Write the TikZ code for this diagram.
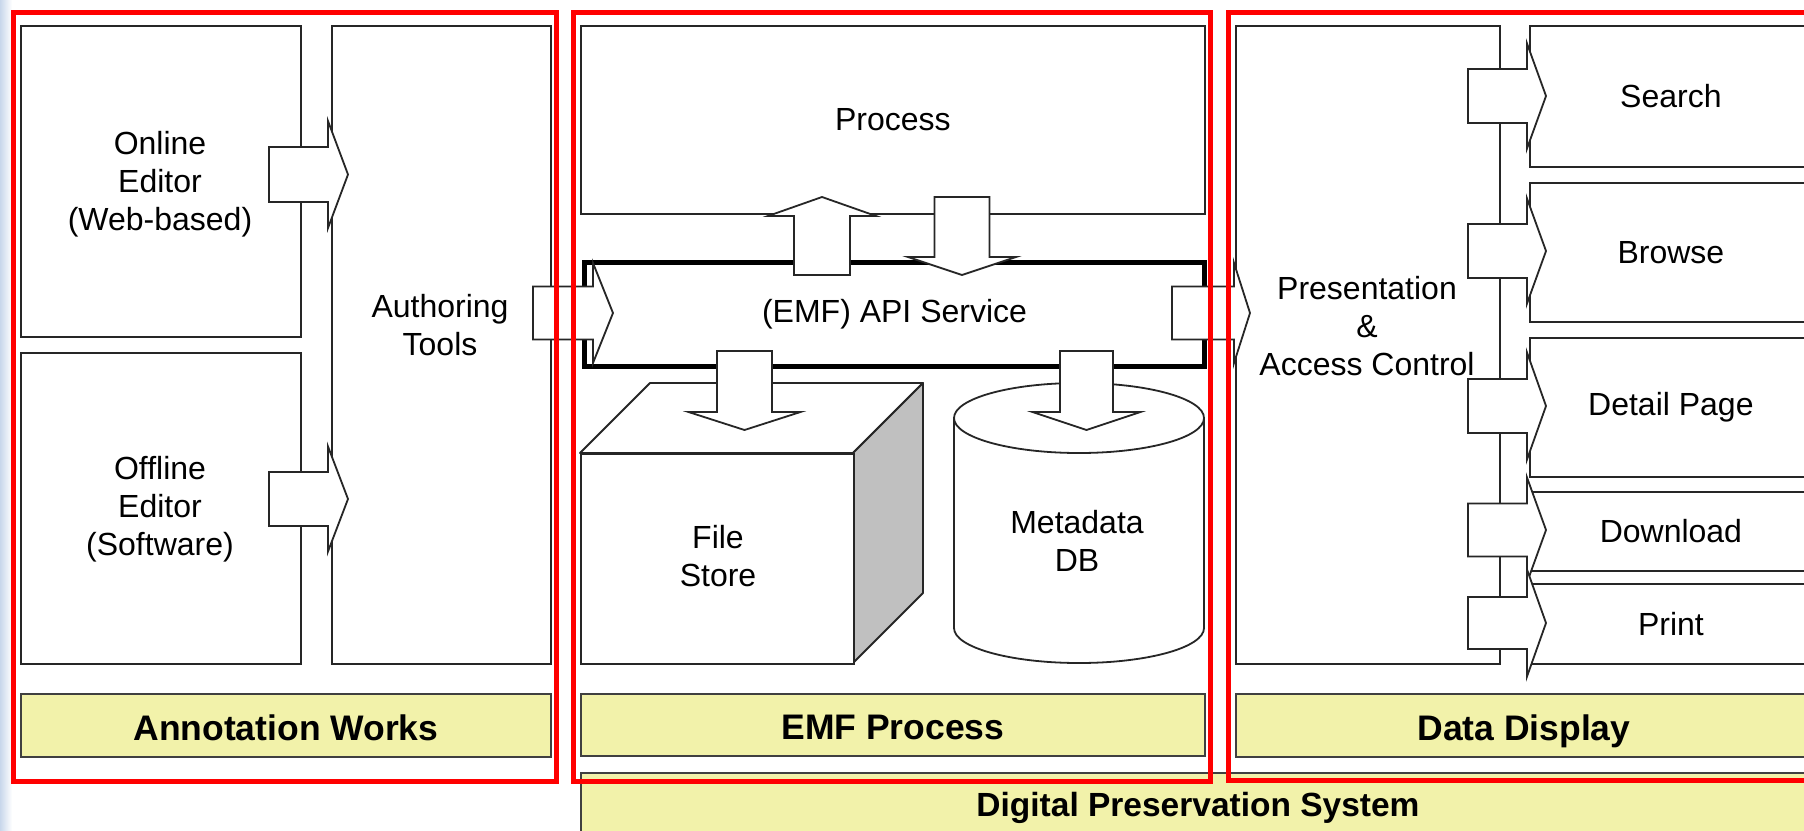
\documentclass[tikz,border=0pt]{standalone}
\usepackage{fontspec}
\setmainfont{Liberation Sans}
\definecolor{yelbg}{RGB}{242,242,170}
\definecolor{sidegray}{RGB}{192,192,192}
\definecolor{bgblue}{RGB}{200,215,235}
\newcommand\regf{\fontsize{32}{38}\selectfont}
\newcommand\bldf{\bfseries\fontsize{35.5}{40}\selectfont}
\newcommand\mkbox[7]{\node[#6, anchor=north west, minimum width={#4pt-#2pt}, minimum height={#5pt-#3pt}] (#1) at (#2,#3) {#7};}
% horizontal block arrow: x0, head base x, tip x, centre y, half body, half head
\newcommand\harr[6]{\draw[barrow] (#1,#4-#5) -- (#2,#4-#5) -- (#2,#4-#6) -- (#3,#4) -- (#2,#4+#6) -- (#2,#4+#5) -- (#1,#4+#5) -- cycle;}
% vertical block arrow: y0, head base y, tip y, centre x, half body, half head
\newcommand\varr[6]{\draw[barrow] (#4-#5,#1) -- (#4-#5,#2) -- (#4-#6,#2) -- (#4,#3) -- (#4+#6,#2) -- (#4+#5,#2) -- (#4+#5,#1) -- cycle;}
\begin{document}
\begin{tikzpicture}[x=1pt,y=-1pt,
  box/.style={draw=black!85, line width=1.8pt, fill=white, inner sep=0pt, align=center, font=\regf},
  ybox/.style={draw=black!75, line width=1.8pt, fill=yelbg, inner sep=0pt, font=\bldf, text height=30pt, text depth=0pt},
  lbl/.style={inner sep=0pt, align=center, font=\regf},
  barrow/.style={draw=black!85, line width=1.8pt, fill=white, line join=miter},
  frame/.style={draw=red, line width=5pt}]
\useasboundingbox (0,0) rectangle (1804,830);
\clip (0,0) rectangle (1804,830);
\fill[white] (0,0) rectangle (1804,830);
\shade[left color=bgblue, right color=white] (0,0) rectangle (12,830);

% ---------- Annotation Works ----------
\mkbox{online}{20}{25}{300}{336}{box}{}
\node[lbl] (onlinetxt) at (160,184) {Online\\Editor\\(Web-based)};
\mkbox{offline}{20}{352}{300}{663}{box}{}
\node[lbl] (offlinetxt) at (160,509) {Offline\\Editor\\(Software)};
\mkbox{auth}{331}{25}{550}{663}{box}{}
\node[lbl] (authtxt) at (440,325) {Authoring\\Tools};
\mkbox{annot}{20}{693}{550}{756}{ybox}{Annotation Works}

% ---------- EMF Process ----------
\mkbox{process}{580}{25}{1204}{213}{box}{Process}
\node[draw=black, line width=5pt, fill=white, anchor=north west, minimum width=620pt, minimum height=104pt, inner sep=0pt, font=\regf] (api) at (582,260) {(EMF) API Service};
% cube
\draw[draw=black!85, line width=1.8pt, fill=white, line join=round] (580,453) -- (650,383) -- (923,383) -- (853,453) -- cycle;
\draw[draw=black!85, line width=1.8pt, fill=sidegray, line join=round] (853,453) -- (923,383) -- (923,593) -- (853,663) -- cycle;
\mkbox{filestore}{580}{453}{853}{663}{box}{}
\node[lbl] (filetxt) at (718,556) {File\\Store};
% cylinder
\draw[draw=black!85, line width=1.8pt, fill=white] (954,418) -- (954,628) arc[start angle=180, end angle=360, x radius=125pt, y radius=35pt] -- (1204,418) -- cycle;
\draw[draw=black!85, line width=1.8pt, fill=white] (1079,418) ellipse [x radius=125pt, y radius=35pt];
\node[lbl] (metadata) at (1077,541) {Metadata\\DB};
\mkbox{emf}{580}{693}{1204}{755}{ybox}{EMF Process}
\node[draw=black!75, line width=1.8pt, fill=yelbg, anchor=north west, minimum width=1250pt, minimum height=90pt, inner sep=0pt] (dps) at (580,772) {};
\node[inner sep=0pt, font=\bfseries\fontsize{33.5}{38}\selectfont] (dpstxt) at (1198,808) {Digital Preservation System};

% ---------- Data Display ----------
\mkbox{pres}{1235}{25}{1499}{663}{box}{}
\node[lbl] (prestxt) at (1367,326) {Presentation\\\&\\Access Control};
\mkbox{search}{1529}{25}{1811}{166}{box}{Search}
\mkbox{browse}{1529}{182}{1811}{321}{box}{Browse}
\mkbox{detail}{1529}{337}{1811}{476}{box}{Detail Page}
\mkbox{download}{1529}{491}{1811}{570}{box}{Download}
\mkbox{print}{1529}{583}{1811}{663}{box}{Print}
\mkbox{datadisp}{1235}{693}{1811}{756}{ybox}{Data Display}

% ---------- block arrows ----------
\harr{269}{328}{348}{174.5}{27.5}{53.5}
\harr{269}{328}{348}{499}{27}{52.5}
\harr{533}{593}{613}{313}{26.5}{50}
\harr{1172}{1234}{1250}{313}{26.5}{50}
\harr{1468}{1527}{1546}{96}{27}{52.5}
\harr{1468}{1527}{1546}{251}{27}{52.5}
\harr{1468}{1527}{1546}{406}{27}{53.5}
\harr{1468}{1527}{1546}{530}{26.5}{52.5}
\harr{1468}{1527}{1546}{623}{26}{53.5}
\varr{275}{216}{197}{822}{28}{54}
\varr{197}{257}{275}{962}{27.5}{54}
\varr{351}{412}{430}{744.5}{27.5}{56}
\varr{351}{412}{430}{1086.5}{26.5}{54}

% ---------- red frames ----------
\draw[frame] (13,12) rectangle (556,781);
\draw[frame] (573,12) rectangle (1210,781);
\draw[frame] (1228,12) rectangle (1830,780);
\end{tikzpicture}
\end{document}
